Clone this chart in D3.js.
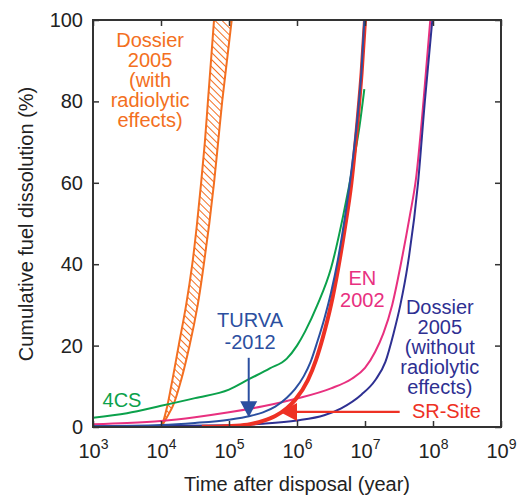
<!DOCTYPE html>
<html>
<head>
<meta charset="utf-8">
<script src="https://d3js.org/d3.v7.min.js"></script>
<style>
  body { margin: 0; background: #fff; }
  text { font-family: "Liberation Sans", Arial, Helvetica, sans-serif; }
</style>
</head>
<body>
<svg></svg>
<script>
// values are [log10(year), % dissolved]
const xTicks = [3, 4, 5, 6, 7, 8, 9];
const yTicks = [0, 20, 40, 60, 80, 100];

const green4CS = [[3.0, 2.3], [3.5, 3.4], [4.0, 5.2], [4.5, 7.1], [5.0, 9.2], [5.3, 11.8], [5.6, 14.4],
  [5.85, 16.8], [6.0, 20], [6.12, 23.5], [6.3, 30], [6.5, 39], [6.68, 52], [6.84, 66], [6.92, 74], [6.99, 83]];

const pinkEN2002 = [[3.0, 0.7], [3.5, 1.0], [4.0, 1.5], [4.5, 2.4], [5.0, 3.6], [5.5, 5.1], [6.0, 7.0],
  [6.5, 9.5], [6.8, 11.8], [7.0, 14.5], [7.15, 18.5], [7.27, 23], [7.4, 30], [7.55, 42], [7.66, 52],
  [7.75, 61], [7.86, 80], [7.96, 100]];

const navyDossier = [[3.0, 0.2], [4.0, 0.25], [5.0, 0.4], [5.5, 0.8], [6.0, 1.6], [6.4, 2.9], [6.65, 4.6],
  [6.95, 8], [7.15, 11.5], [7.3, 16], [7.42, 23], [7.52, 30], [7.63, 40], [7.78, 60], [7.88, 80], [7.99, 100]];

const blueTurva = [[3.0, 0.2], [4.0, 0.5], [4.5, 1.0], [5.0, 1.8], [5.31, 2.7], [5.5, 3.6], [5.68, 5.0],
  [5.85, 7.2], [5.97, 9.3], [6.1, 12.5], [6.2, 16], [6.3, 21], [6.4, 26.5], [6.5, 33], [6.6, 41],
  [6.7, 51], [6.8, 63], [6.9, 78], [6.95, 88], [6.99, 100]];

const redSRSite = [[4.6, 0.05], [4.9, 0.15], [5.1, 0.3], [5.31, 0.7], [5.5, 1.5], [5.68, 2.7], [5.85, 4.6],
  [5.97, 6.6], [6.16, 11.5], [6.28, 16.5], [6.38, 22], [6.5, 30], [6.6, 38.5], [6.7, 48.5], [6.8, 60],
  [6.9, 77], [6.95, 87], [7.0, 100]];

// Dossier 2005 with radiolytic effects: band between a fast and a slow edge
const orangePct  = [0.5, 5, 10, 20, 30, 40, 50, 60, 70, 80, 90, 100];
const orangeFast = [4.02, 4.09, 4.15, 4.26, 4.37, 4.46, 4.53, 4.59, 4.645, 4.69, 4.735, 4.78];
const orangeSlow = [4.02, 4.17, 4.27, 4.42, 4.54, 4.63, 4.71, 4.78, 4.84, 4.9, 4.97, 5.04];

// arrows: [log10(year), %]
const turvaArrow = { from: [5.29, 17], to: [5.29, 2.4] };
const srArrow = { from: [7.51, 3.7], to: [5.75, 3.7] };

const W = 518, H = 496;
const svg = d3.select("svg").attr("width", W).attr("height", H);

const x = d3.scaleLog().domain([1e3, 1e9]).range([93, 501]);
const y = d3.scaleLinear().domain([0, 100]).range([427, 20]);
const px = d => x(Math.pow(10, d[0]));
const py = d => y(d[1]);

const colors = {
  orange: "#f36f21", green: "#0ba14b", pink: "#e8307f",
  navy: "#2e3092", blue: "#2b4fa0", red: "#ee3124"
};

// hatch pattern
const defs = svg.append("defs");
defs.append("pattern")
  .attr("id", "hatch")
  .attr("patternUnits", "userSpaceOnUse")
  .attr("width", 5).attr("height", 5)
  .attr("patternTransform", "rotate(45)")
  .append("line")
  .attr("x1", 0).attr("y1", 2.5).attr("x2", 5).attr("y2", 2.5)
  .attr("stroke", colors.orange).attr("stroke-width", 1);

defs.append("clipPath").attr("id", "plot")
  .append("rect").attr("x", 93).attr("y", 20).attr("width", 408).attr("height", 407);

const plot = svg.append("g").attr("clip-path", "url(#plot)");

const line = d3.line().x(px).y(py).curve(d3.curveMonotoneX);

// orange band
const bandRows = orangePct.map((p, i) => ({ p: p, lo: orangeFast[i], hi: orangeSlow[i] }));
plot.append("path")
  .attr("d", d3.area()
    .y(d => y(d.p))
    .x0(d => x(Math.pow(10, d.lo)))
    .x1(d => x(Math.pow(10, d.hi)))
    .curve(d3.curveMonotoneY)(bandRows))
  .attr("fill", "url(#hatch)");
["lo", "hi"].forEach(k => {
  plot.append("path")
    .attr("d", d3.line()
      .y(d => y(d.p))
      .x(d => x(Math.pow(10, d[k])))
      .curve(d3.curveMonotoneY)(bandRows))
    .attr("fill", "none").attr("stroke", colors.orange).attr("stroke-width", 2);
});

// curves
const curves = [
  { data: pinkEN2002, color: colors.pink, w: 2 },
  { data: navyDossier, color: colors.navy, w: 2 },
  { data: green4CS, color: colors.green, w: 2 },
  { data: redSRSite, color: colors.red, w: 4 },
  { data: blueTurva, color: colors.blue, w: 2 }
];
plot.selectAll(".curve").data(curves).enter().append("path")
  .attr("class", "curve")
  .attr("d", d => line(d.data))
  .attr("fill", "none")
  .attr("stroke", d => d.color)
  .attr("stroke-width", d => d.w)
  .attr("stroke-linejoin", "round");

// arrows
const ta = turvaArrow;
const tx = px(ta.to), tTip = py(ta.to);
svg.append("line")
  .attr("x1", tx).attr("y1", py(ta.from)).attr("x2", tx).attr("y2", tTip - 14)
  .attr("stroke", colors.blue).attr("stroke-width", 2);
svg.append("path")
  .attr("d", `M${tx},${tTip}L${tx - 8.5},${tTip - 16}L${tx + 8.5},${tTip - 16}Z`)
  .attr("fill", colors.blue);

const sa = srArrow;
const sTip = px(sa.to), sy = py(sa.to);
svg.append("line")
  .attr("x1", px(sa.from)).attr("y1", sy).attr("x2", sTip + 14).attr("y2", sy)
  .attr("stroke", colors.red).attr("stroke-width", 2.2);
svg.append("path")
  .attr("d", `M${sTip},${sy}L${sTip + 17},${sy - 9}L${sTip + 17},${sy + 9}Z`)
  .attr("fill", colors.red);

// frame
svg.append("rect")
  .attr("x", 93).attr("y", 20).attr("width", 408).attr("height", 407)
  .attr("fill", "none").attr("stroke", "#333").attr("stroke-width", 2);

// axes with inward ticks
const tickVals = xTicks.map(e => Math.pow(10, e));
const gx = svg.append("g").attr("transform", "translate(0,427)")
  .call(d3.axisBottom(x).tickValues(tickVals).tickSizeInner(-6).tickSizeOuter(0).tickPadding(17).tickFormat(""));
svg.append("g").attr("transform", "translate(0,20)")
  .call(d3.axisTop(x).tickValues(tickVals).tickSizeInner(-6).tickSizeOuter(0).tickFormat(""));
const gy = svg.append("g").attr("transform", "translate(93,0)")
  .call(d3.axisLeft(y).tickValues(yTicks).tickSizeInner(-6).tickSizeOuter(0).tickPadding(10));
svg.append("g").attr("transform", "translate(501,0)")
  .call(d3.axisRight(y).tickValues(yTicks).tickSizeInner(-6).tickSizeOuter(0).tickFormat(""));

svg.selectAll(".domain").remove();
svg.selectAll(".tick line").attr("stroke", "#333").attr("stroke-width", 1.5);
gy.selectAll(".tick text").attr("font-size", 20).attr("fill", "#222")
  .attr("font-family", '"Liberation Sans", Arial, sans-serif');

gx.selectAll(".tick text")
  .attr("font-size", 20).attr("fill", "#222")
  .attr("font-family", '"Liberation Sans", Arial, sans-serif')
  .each(function (d) {
    const t = d3.select(this);
    t.append("tspan").text("10");
    t.append("tspan").attr("font-size", 14).attr("dy", "-9").text(Math.round(Math.log10(d)));
  });

// axis titles
svg.append("text")
  .attr("x", 297).attr("y", 491)
  .attr("text-anchor", "middle").attr("font-size", 20).attr("fill", "#222")
  .text("Time after disposal (year)");
svg.append("text")
  .attr("transform", "translate(33,224) rotate(-90)")
  .attr("text-anchor", "middle").attr("font-size", 20).attr("fill", "#222")
  .text("Cumulative fuel dissolution (%)");

// curve labels
function label(lines, at, color, anchor, gap) {
  const t = svg.append("text")
    .attr("text-anchor", anchor || "middle")
    .attr("font-size", 20).attr("fill", color);
  lines.forEach((s, i) => {
    t.append("tspan").attr("x", px(at)).attr("y", py(at) + 7 + i * (gap || 20)).text(s);
  });
}
label(["Dossier", "2005", "(with", "radiolytic", "effects)"], [3.84, 95], colors.orange);
label(["4CS"], [3.14, 6.6], colors.green, "start");
label(["TURVA", "-2012"], [5.31, 26.3], colors.blue, "middle", 22);
label(["EN", "2002"], [6.96, 36.7], colors.pink, "middle", 22);
label(["Dossier", "2005", "(without", "radiolytic", "effects)"], [8.1, 29.5], colors.navy);
label(["SR-Site"], [7.69, 3.9], colors.red, "start");
</script>
</body>
</html>
